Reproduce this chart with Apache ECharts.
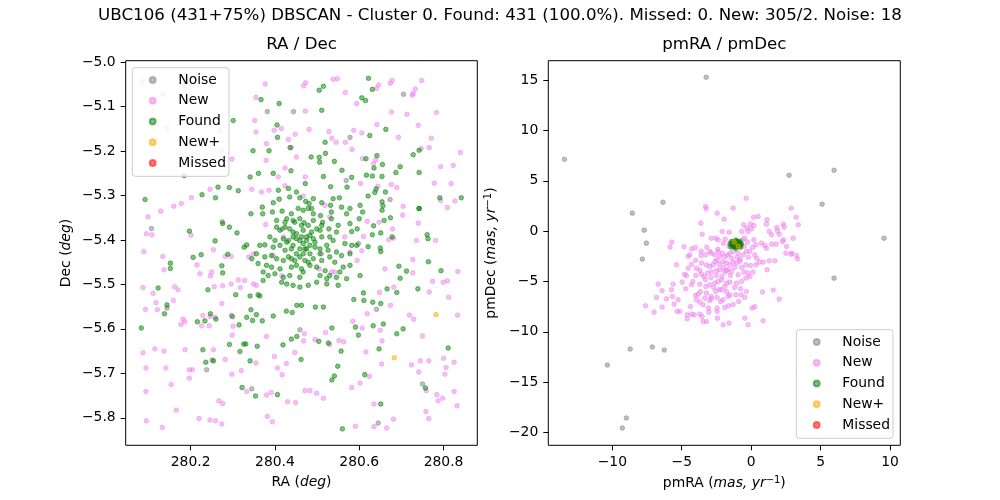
<!DOCTYPE html>
<html>
<head>
<meta charset="utf-8">
<script src="https://cdn.jsdelivr.net/npm/echarts@6/dist/echarts.min.js"></script>
<style>
  html, body { margin: 0; padding: 0; background: #fff; }
  #chart { width: 1000px; height: 500px; }
</style>
</head>
<body>
<div id="chart"></div>
<script>
// ---- RA / Dec panel ----
var noiseRaDec = [
  [280.705,-5.072],[280.382,-5.111],[280.444,-5.111],[280.578,-5.169],[280.569,-5.266],[280.673,-5.309],
  [280.275,-5.359],[280.107,-5.374],[280.598,-5.408],[280.641,-5.556],[280.144,-5.553],[280.251,-5.670],
  [280.238,-5.692],[280.345,-5.735],[280.750,-5.724],[280.645,-5.812],[280.459,-5.602],[280.417,-5.375]
];
var newRaDec = [
  [280.085,-5.043],[280.377,-5.049],[280.473,-5.046],[280.468,-5.053],[280.538,-5.038],[280.548,-5.037],
  [280.567,-5.068],[280.646,-5.051],[280.641,-5.059],[280.678,-5.041],[280.674,-5.047],[280.733,-5.060],
  [280.728,-5.070],[280.726,-5.074],[280.748,-5.041],[280.594,-5.093],[280.355,-5.079],[280.135,-5.072],
  [280.185,-5.053],
  [280.472,-5.110],[280.783,-5.113],[280.676,-5.112],[280.713,-5.117],[280.352,-5.131],[280.415,-5.149],
  [280.398,-5.153],[280.481,-5.151],[280.528,-5.156],[280.587,-5.153],[280.606,-5.159],[280.642,-5.140],
  [280.740,-5.142],[280.355,-5.157],[280.448,-5.162],[280.771,-5.171],[280.693,-5.169],[280.535,-5.171],
  [280.545,-5.180],[280.432,-5.174],[280.567,-5.180],[280.269,-5.154],[280.144,-5.147],
  [280.380,-5.183],[280.439,-5.192],[280.451,-5.213],[280.583,-5.196],[280.747,-5.194],[280.766,-5.192],
  [280.840,-5.203],[280.823,-5.232],[280.793,-5.235],[280.608,-5.217],[280.639,-5.220],[280.634,-5.228],
  [280.424,-5.238],[280.273,-5.200],[280.298,-5.218],[280.379,-5.221],
  [280.408,-5.258],[280.472,-5.258],[280.676,-5.275],[280.689,-5.282],[280.778,-5.272],[280.818,-5.273],
  [280.793,-5.311],[280.704,-5.324],[280.809,-5.327],[280.827,-5.312],[280.644,-5.279],[280.603,-5.273],
  [280.345,-5.286],[280.368,-5.292],[280.386,-5.288],[280.424,-5.278],[280.246,-5.286],[280.202,-5.305],
  [280.160,-5.324],[280.178,-5.318],[280.129,-5.335],
  [280.099,-5.348],[280.108,-5.388],[280.095,-5.386],[280.201,-5.389],[280.703,-5.344],[280.740,-5.362],
  [280.781,-5.401],[280.736,-5.401],[280.679,-5.375],[280.681,-5.396],[280.647,-5.360],[280.619,-5.358],
  [280.610,-5.392],
  [280.089,-5.426],[280.134,-5.437],[280.215,-5.456],[280.254,-5.422],[280.282,-5.437],[280.296,-5.437],
  [280.338,-5.438],[280.670,-5.399],[280.606,-5.424],[280.595,-5.446],[280.661,-5.465],[280.727,-5.444],
  [280.834,-5.471],[280.809,-5.492],[280.774,-5.493],[280.799,-5.495],[280.137,-5.467],[280.222,-5.476],
  [280.087,-5.507],[280.111,-5.520],[280.162,-5.505],[280.118,-5.541],[280.159,-5.536],[280.170,-5.512],
  [280.247,-5.481],[280.250,-5.472],[280.256,-5.505],[280.276,-5.503],[280.296,-5.499],[280.313,-5.490],
  [280.318,-5.507],[280.328,-5.491],[280.648,-5.518],[280.682,-5.506],[280.727,-5.474],[280.766,-5.517],
  [280.812,-5.529],[280.674,-5.547],
  [280.093,-5.556],[280.121,-5.557],[280.182,-5.578],[280.186,-5.584],[280.177,-5.590],[280.229,-5.570],
  [280.246,-5.572],[280.226,-5.593],[280.244,-5.593],[280.258,-5.574],[280.274,-5.543],[280.296,-5.569],
  [280.301,-5.594],[280.299,-5.614],[280.380,-5.617],[280.470,-5.611],[280.520,-5.608],[280.552,-5.626],
  [280.607,-5.598],[280.585,-5.583],[280.619,-5.566],[280.650,-5.603],[280.719,-5.569],[280.729,-5.578],
  [280.750,-5.616],[280.833,-5.569],
  [280.087,-5.654],[280.094,-5.688],[280.115,-5.645],[280.137,-5.650],[280.141,-5.688],[280.187,-5.647],
  [280.197,-5.692],[280.204,-5.692],[280.254,-5.647],[280.282,-5.669],[280.320,-5.694],[280.355,-5.677],
  [280.406,-5.688],[280.399,-5.662],[280.427,-5.678],[280.447,-5.653],[280.468,-5.627],[280.495,-5.624],
  [280.530,-5.635],[280.563,-5.629],[280.654,-5.627],[280.616,-5.652],[280.653,-5.679],[280.724,-5.681],
  [280.745,-5.672],[280.765,-5.672],[280.741,-5.697],[280.800,-5.666],[280.806,-5.687],[280.825,-5.675],
  [280.094,-5.741],[280.154,-5.725],[280.197,-5.711],[280.267,-5.762],[280.276,-5.768],[280.298,-5.702],
  [280.333,-5.741],[280.380,-5.749],[280.391,-5.743],[280.417,-5.703],[280.430,-5.764],[280.449,-5.766],
  [280.471,-5.739],[280.483,-5.739],[280.499,-5.745],[280.515,-5.756],[280.582,-5.732],[280.602,-5.722],
  [280.624,-5.707],[280.635,-5.769],[280.759,-5.739],[280.784,-5.748],[280.787,-5.762],[280.798,-5.756],
  [280.803,-5.702],[280.825,-5.741],[280.832,-5.773],
  [280.095,-5.807],[280.133,-5.822],[280.166,-5.783],[280.220,-5.802],[280.246,-5.805],[280.259,-5.807],
  [280.274,-5.814],[280.382,-5.797],[280.394,-5.809],[280.591,-5.819],[280.635,-5.820],[280.665,-5.823],
  [280.681,-5.803],[280.758,-5.786],[280.765,-5.802],
  [280.467,-5.301],[280.519,-5.322],[280.530,-5.348],[280.378,-5.365],[280.420,-5.393],[280.566,-5.393],
  [280.349,-5.431],[280.396,-5.435],[280.511,-5.431],[280.505,-5.465],[280.534,-5.472],[280.542,-5.472],
  [280.416,-5.480],[280.349,-5.499],[280.356,-5.502],[280.578,-5.427]
];
var foundRaDec = [
  [280.622,-5.036],[280.505,-5.063],[280.515,-5.054],[280.631,-5.061],[280.367,-5.084],[280.606,-5.080],
  [280.615,-5.086],[280.410,-5.093],[280.511,-5.108],[280.405,-5.141],[280.406,-5.169],[280.301,-5.131],
  [280.663,-5.151],[280.625,-5.165],[280.519,-5.180],[280.728,-5.208],[280.742,-5.198],[280.348,-5.199],
  [280.386,-5.199],[280.436,-5.192],[280.486,-5.213],[280.505,-5.214],[280.506,-5.225],[280.520,-5.205],
  [280.541,-5.223],[280.616,-5.217],[280.642,-5.210],[280.635,-5.238],[280.655,-5.230],[280.697,-5.235],
  [280.438,-5.244],[280.472,-5.273],[280.515,-5.257],[280.532,-5.280],[280.559,-5.243],[280.582,-5.259],
  [280.571,-5.281],[280.617,-5.254],[280.631,-5.256],[280.654,-5.257],[280.640,-5.285],[280.621,-5.301],
  [280.637,-5.293],[280.687,-5.248],[280.742,-5.248],[280.341,-5.258],[280.361,-5.250],[280.292,-5.282],
  [280.313,-5.289],[280.265,-5.281],[280.227,-5.298],[280.259,-5.305],[280.092,-5.309],[280.185,-5.255],
  [280.791,-5.305],[280.842,-5.305],[280.742,-5.329],[280.654,-5.314],[280.656,-5.323],[280.674,-5.350],
  [280.662,-5.292],[280.408,-5.288],[280.432,-5.284],[280.451,-5.292],[280.396,-5.250],
  [280.197,-5.380],[280.276,-5.363],[280.292,-5.371],[280.310,-5.384],[280.258,-5.402],[280.327,-5.416],
  [280.333,-5.411],[280.206,-5.439],[280.225,-5.433],[280.274,-5.458],[280.288,-5.432],[280.152,-5.452],
  [280.152,-5.464],[280.276,-5.474],[280.654,-5.333],[280.659,-5.356],[280.634,-5.368],[280.651,-5.384],
  [280.631,-5.388],[280.742,-5.329],[280.761,-5.388],[280.763,-5.397],[280.678,-5.393],[280.621,-5.415],
  [280.650,-5.418],[280.651,-5.426],[280.764,-5.449],[280.794,-5.469],[280.694,-5.459],[280.712,-5.470],
  [280.697,-5.486],[280.123,-5.508],[280.241,-5.512],[280.666,-5.510],[280.689,-5.518],[280.739,-5.510],
  [280.307,-5.523],[280.341,-5.526],[280.360,-5.523],[280.364,-5.526],[280.452,-5.547],[280.463,-5.547],
  [280.496,-5.551],[280.515,-5.551],[280.610,-5.519],[280.611,-5.536],[280.587,-5.534],[280.632,-5.540],
  [280.651,-5.543],[280.144,-5.546],[280.138,-5.566],[280.083,-5.598],[280.216,-5.584],[280.234,-5.582],
  [280.260,-5.578],[280.247,-5.566],[280.299,-5.572],[280.315,-5.591],[280.333,-5.574],[280.347,-5.581],
  [280.370,-5.582],[280.396,-5.571],[280.343,-5.557],[280.356,-5.568],[280.427,-5.560],[280.441,-5.563],
  [280.657,-5.589],[280.633,-5.593],[280.689,-5.611],[280.704,-5.600],[280.591,-5.596],[280.535,-5.598],
  [280.229,-5.647],[280.236,-5.675],[280.254,-5.672],[280.292,-5.635],[280.317,-5.651],[280.326,-5.634],
  [280.331,-5.634],[280.341,-5.672],[280.358,-5.639],[280.419,-5.636],[280.439,-5.623],[280.452,-5.617],
  [280.462,-5.669],[280.504,-5.628],[280.527,-5.632],[280.557,-5.650],[280.598,-5.614],[280.647,-5.645],
  [280.549,-5.684],[280.322,-5.732],[280.354,-5.751],[280.406,-5.748],[280.535,-5.715],[280.541,-5.706],
  [280.613,-5.703],[280.651,-5.769],[280.757,-5.733],[280.560,-5.825],[280.811,-5.643],
  [280.370,-5.326],[280.396,-5.316],[280.410,-5.308],[280.435,-5.303],[280.459,-5.305],[280.473,-5.313],
  [280.481,-5.318],[280.491,-5.307],[280.511,-5.316],[280.532,-5.322],[280.538,-5.307],[280.553,-5.305],
  [280.558,-5.326],[280.578,-5.329],[280.602,-5.322],[280.608,-5.337],[280.343,-5.341],[280.371,-5.341],
  [280.394,-5.337],[280.417,-5.335],[280.439,-5.341],[280.455,-5.329],[280.467,-5.333],[280.479,-5.329],
  [280.487,-5.329],[280.491,-5.341],[280.534,-5.337],[280.570,-5.341],[280.404,-5.356],[280.428,-5.352],
  [280.443,-5.356],[280.459,-5.352],[280.469,-5.361],[280.508,-5.345],[280.513,-5.360],[280.511,-5.367],
  [280.534,-5.352],[280.550,-5.367],[280.578,-5.363],[280.600,-5.352],[280.404,-5.371],[280.412,-5.378],
  [280.424,-5.371],[280.435,-5.375],[280.443,-5.382],[280.451,-5.386],[280.467,-5.378],[280.487,-5.382],
  [280.499,-5.375],[280.507,-5.378],[280.528,-5.375],[280.546,-5.382],[280.582,-5.381],[280.595,-5.375],
  [280.388,-5.393],[280.400,-5.401],[280.420,-5.397],[280.428,-5.405],[280.443,-5.393],[280.451,-5.397],
  [280.459,-5.401],[280.467,-5.408],[280.483,-5.390],[280.491,-5.397],[280.495,-5.405],[280.511,-5.393],
  [280.530,-5.393],[280.538,-5.401],[280.566,-5.408],[280.582,-5.412],[280.364,-5.412],[280.376,-5.411],
  [280.396,-5.416],[280.412,-5.412],[280.424,-5.423],[280.439,-5.420],[280.443,-5.412],[280.459,-5.420],
  [280.475,-5.420],[280.483,-5.412],[280.495,-5.416],[280.507,-5.420],[280.523,-5.412],[280.526,-5.423],
  [280.546,-5.427],[280.558,-5.435],[280.578,-5.431],[280.594,-5.412],[280.345,-5.442],[280.356,-5.431],
  [280.376,-5.438],[280.392,-5.435],[280.404,-5.442],[280.420,-5.446],[280.439,-5.442],[280.447,-5.446],
  [280.459,-5.438],[280.471,-5.446],[280.479,-5.450],[280.491,-5.442],[280.507,-5.431],[280.511,-5.446],
  [280.530,-5.438],[280.542,-5.450],[280.562,-5.461],[280.360,-5.453],[280.380,-5.457],[280.392,-5.461],
  [280.412,-5.465],[280.439,-5.461],[280.451,-5.457],[280.463,-5.465],[280.483,-5.457],[280.499,-5.461],
  [280.519,-5.469],[280.530,-5.480],[280.554,-5.472],[280.578,-5.457],[280.602,-5.480],[280.372,-5.472],
  [280.384,-5.480],[280.400,-5.476],[280.420,-5.484],[280.435,-5.480],[280.459,-5.484],[280.467,-5.472],
  [280.507,-5.480],[280.523,-5.487],[280.546,-5.484],[280.372,-5.491],[280.416,-5.495],[280.428,-5.499],
  [280.443,-5.502],[280.459,-5.506],[280.479,-5.502],[280.499,-5.495],[280.523,-5.499],[280.550,-5.502],
  [280.570,-5.487],[280.447,-5.360],[280.463,-5.367],[280.475,-5.393],[280.451,-5.431],[280.467,-5.431],
  [280.432,-5.438],[280.475,-5.401],[280.463,-5.393],[280.432,-5.401],[280.424,-5.360],[280.491,-5.356],
  [280.479,-5.367],[280.483,-5.431],[280.471,-5.420]
];
var newPlusRaDec = [[280.782,-5.568],[280.683,-5.665]];
var missedRaDec = [];

// ---- pmRA / pmDec panel ----
var noisePm = [
  [-3.24,15.30],[-13.45,7.15],[2.73,5.56],[5.97,6.06],[5.11,2.68],[-6.35,2.88],[-8.56,1.79],
  [-7.70,0.10],[-7.55,-1.19],[-7.84,-2.78],[9.57,-0.70],[5.97,-4.67],[-8.71,-11.72],[-7.12,-11.52],
  [-6.26,-11.82],[-10.36,-13.31],[-8.99,-18.58],[-9.28,-19.57]
];
var newPm = [
  [-0.36,3.28],[-3.29,2.45],[-3.24,2.22],[-1.30,2.29],[-2.45,1.79],[2.88,2.29],[0.17,1.39],[0.50,1.46],
  [-1.95,1.19],[-3.63,0.80],[3.24,1.39],[1.15,1.13],[1.10,0.70],[3.39,0.63],[-0.55,0.63],[-0.31,0.30],
  [-0.05,0.70],[0.19,0.56],[0.02,0.23],[2.31,0.70],[2.38,0.40],[1.85,0.36],[1.90,0.03],[-2.09,-0.03],
  [-1.59,-0.10],[-3.53,-0.30],[-0.67,-0.03],[-0.22,-0.03],[1.30,-0.03],[1.47,-0.36],[2.02,-0.30],
  [3.03,-0.70],[-5.72,-1.09],[-5.84,-1.59],[-4.83,-1.56],[-4.28,-1.76],[-4.01,-1.62],[-2.88,-0.70],
  [-2.55,-0.70],[-2.38,-0.86],[-1.87,-0.80],[-1.54,-1.19],[-0.62,-0.86],[-0.46,-0.70],[-0.26,-1.09],
  [0.19,-0.86],[0.34,-1.36],[0.74,-1.19],[0.98,-1.42],[1.10,-1.69],[1.47,-1.29],[1.80,-1.29],
  [2.33,-0.86],[2.26,-1.03],[2.55,-1.52],[2.91,-2.19],[3.27,-2.42],[-4.42,-2.35],[-4.54,-2.52],
  [-3.60,-2.42],[-3.27,-2.35],[-2.98,-2.02],[-2.88,-2.19],[-2.62,-2.35],[-2.38,-2.02],[-2.07,-2.19],
  [-1.90,-2.52],[-2.26,-2.52],[-1.54,-2.19],[-1.30,-2.02],[-0.94,-2.19],[-0.58,-2.35],[-0.34,-2.02],
  [-0.10,-2.02],[0.26,-2.35],[-5.38,-3.35],[-4.54,-3.68],[-3.94,-3.68],[-3.58,-3.18],[-3.22,-3.35],
  [-2.98,-3.51],[-2.74,-3.35],[-2.45,-2.85],[-2.02,-3.01],[-1.78,-3.18],[-1.54,-3.35],[-1.30,-3.08],
  [-1.06,-3.18],[-0.82,-3.01],[-0.38,-3.35],[-0.05,-3.41],[0.34,-3.35],[0.58,-3.08],[0.86,-3.08],
  [1.30,-2.95],[1.71,-2.95],[2.50,-2.19],[2.88,-2.29],[3.34,-2.75],[-4.66,-4.41],[-3.99,-4.41],
  [-3.58,-4.27],[-3.15,-4.17],[-2.86,-4.07],[-2.50,-3.94],[-2.26,-3.84],[-1.90,-4.07],[-1.66,-3.84],
  [-1.42,-4.01],[-0.94,-4.34],[-0.53,-4.07],[-0.22,-4.17],[0.14,-4.07],[1.15,-3.84],[-6.70,-5.27],
  [-5.62,-5.27],[-4.97,-5.07],[-4.30,-5.33],[-3.70,-5.27],[-3.27,-5.50],[-2.98,-5.33],[-2.62,-5.17],
  [-2.38,-5.00],[-2.14,-4.84],[-1.78,-5.17],[-1.54,-5.07],[-1.06,-5.17],[-0.70,-5.00],[-0.38,-4.67],
  [-0.10,-4.51],[-6.41,-5.93],[-5.74,-5.83],[-4.71,-5.73],[-3.82,-6.26],[-3.65,-6.00],[-3.22,-6.16],
  [-2.88,-6.49],[-2.55,-6.00],[-2.14,-5.83],[-1.78,-6.00],[-1.54,-6.33],[-1.10,-6.33],[-0.77,-5.73],
  [-0.72,-6.33],[-0.34,-6.00],[-6.82,-6.59],[-6.10,-6.73],[-5.67,-6.49],[-5.26,-6.82],[-3.94,-6.82],
  [-3.70,-7.06],[-3.34,-6.66],[-2.86,-6.73],[-2.45,-6.59],[-2.02,-6.82],[-1.66,-6.49],[-0.46,-6.59],
  [0.82,-6.06],[1.59,-5.86],[2.02,-6.76],[-7.61,-7.42],[-6.99,-8.05],[-6.41,-7.55],[-5.55,-7.26],
  [-5.33,-7.98],[-4.37,-7.49],[-3.46,-7.32],[-3.07,-7.65],[-2.45,-7.65],[-1.63,-7.42],[0.07,-7.65],
  [0.26,-7.52],[-5.14,-7.98],[-4.61,-8.32],[-4.30,-8.25],[-4.11,-8.32],[-3.70,-8.25],[-3.05,-8.05],
  [-2.45,-7.98],[-3.53,-8.48],[-3.46,-8.98],[-3.22,-8.98],[-2.43,-8.65],[-2.02,-9.31],[-1.59,-9.14],
  [-0.46,-8.65],[-0.22,-9.31],[0.86,-8.91],[-4.61,-8.71],
  [-2.6,-3.0],[-2.3,-3.3],[-2.0,-3.6],[-1.8,-3.9],[-2.5,-4.4],[-2.1,-4.5],[-1.5,-4.4],[-1.2,-3.6],
  [-1.0,-2.6],[-0.8,-2.8],[-1.4,-2.7],[-1.7,-2.4],[-2.9,-4.6],[-3.3,-4.8],[-2.7,-5.6],[-2.3,-5.8],
  [-1.9,-5.5],[-1.2,-5.6],[-0.7,-3.6],[-0.2,-2.6],[0.4,-2.7],[0.1,-1.6],[-0.5,-1.5],[-1.6,-1.5],
  [-2.0,-1.2],[-2.4,-1.8],[-3.2,-1.6],[-3.6,-2.0],[-4.0,-2.9],[-4.3,-3.3],[-3.7,-3.9],[-3.4,-4.5],
  [-4.2,-5.0],[-4.8,-4.3],[-3.0,-6.9],[-2.2,-7.0],[-1.3,-7.3],[-0.9,-7.0],[-1.9,-7.6],[-4.0,-6.4]
];
var foundPm = [
  [-1.1,-1.3],[-1.3,-1.2],[-0.9,-1.4],[-1.2,-1.5],[-1.0,-1.1],[-1.35,-1.4],[-0.82,-1.22],[-1.15,-1.05],
  [-1.05,-1.52],[-1.3,-1.08],[-0.88,-1.5],[-1.25,-1.35],[-0.95,-1.25],[-1.38,-1.25],[-0.8,-1.35],
  [-1.18,-1.55],[-1.0,-1.0],[-1.28,-1.5],[-0.9,-1.08],[-1.1,-1.45],
  [-1.5,-1.3],[-0.7,-1.3],[-1.1,-0.88],[-1.1,-1.72],[-1.42,-1.02],[-0.76,-1.6],[-1.45,-1.58],[-0.8,-1.02]
];
var newPlusPm = [[-1.22,-1.09],[-0.94,-1.49]];
var missedPm = [];

// ---- tick labels ----
var raTicks = [280.2, 280.4, 280.6, 280.8];
var decTicks = [-5.0, -5.1, -5.2, -5.3, -5.4, -5.5, -5.6, -5.7, -5.8];
var pmRaTicks = [-10, -5, 0, 5, 10];
var pmDecTicks = [15, 10, 5, 0, -5, -10, -15, -20];

var FONT = 'DejaVu Sans';
var colors = {Noise: '#808080', New: '#ee82ee', Found: '#008000', 'New+': '#ffa500', Missed: '#ff0000'};
var names = ['Noise', 'New', 'Found', 'New+', 'Missed'];

function minus(s) { return String(s).replace('-', '\u2212'); }

function valueAxis(gridIndex, min, max, ticks, fmt, name, gap, isY) {
  return {
    type: 'value', gridIndex: gridIndex, min: min, max: max,
    name: name, nameLocation: 'middle', nameGap: gap, nameRotate: isY ? 90 : 0,
    nameTextStyle: {
      fontFamily: FONT, fontSize: 13.9, color: '#000',
      rich: {
        i: {fontFamily: FONT, fontSize: 13.9, fontStyle: 'italic', color: '#000'},
        s: {fontFamily: FONT, fontSize: 10, color: '#000', verticalAlign: 'top', padding: [0, 0, 6, 0]}
      }
    },
    axisLine: {show: false, onZero: false},
    splitLine: {show: false},
    axisTick: {show: true, length: 5, inside: false, customValues: ticks,
      lineStyle: {color: '#000', width: 1}},
    axisLabel: {show: true, customValues: ticks, margin: 10, color: '#000',
      fontFamily: FONT, fontSize: 13.9, formatter: fmt}
  };
}

function scatter(name, data, xi, yi) {
  return {
    type: 'scatter', name: name, data: data, xAxisIndex: xi, yAxisIndex: yi,
    symbol: 'circle', symbolSize: 4.6,
    itemStyle: {color: colors[name], opacity: 0.5, borderColor: colors[name], borderWidth: 1},
    emphasis: {disabled: true}, animation: false
  };
}

function legendBox(left, top) {
  return {
    data: names, left: left, top: top, orient: 'vertical', icon: 'circle',
    itemWidth: 30, itemHeight: 6, itemGap: 6.7, padding: [5.4, 3, 6.4, 16.4],
    backgroundColor: 'rgba(255,255,255,0.8)', borderColor: '#cccccc', borderWidth: 1, borderRadius: 3,
    selectedMode: false,
    textStyle: {fontFamily: FONT, fontSize: 13.9, color: '#000', lineHeight: 14, padding: [0, 0, 0, 5.6]}
  };
}

var series = [];
var leftSets = [noiseRaDec, newRaDec, foundRaDec, newPlusRaDec, missedRaDec];
var rightSets = [noisePm, newPm, foundPm, newPlusPm, missedPm];
names.forEach(function (n, k) { series.push(scatter(n, leftSets[k], 0, 0)); });
names.forEach(function (n, k) { series.push(scatter(n, rightSets[k], 1, 1)); });

var titleStyle = {fontFamily: FONT, fontSize: 16.67, fontWeight: 'normal', color: '#000'};

var chart = echarts.init(document.getElementById('chart'));
chart.setOption({
  backgroundColor: '#fff',
  animation: false,
  title: [
    {text: 'UBC106 (431+75%) DBSCAN - Cluster 0. Found: 431 (100.0%). Missed: 0. New: 305/2. Noise: 18',
      left: 500, top: 7, padding: 0, textAlign: 'center', textStyle: titleStyle},
    {text: 'RA / Dec', left: 301.5, top: 36, padding: 0, textAlign: 'center', textStyle: titleStyle},
    {text: 'pmRA / pmDec', left: 724.3, top: 36, padding: 0, textAlign: 'center', textStyle: titleStyle}
  ],
  legend: [legendBox(132.3, 67.7), legendBox(796.3, 329.7)],
  grid: [
    {left: 125.7, top: 60.7, width: 351.6, height: 384.6, show: true, borderColor: '#000', borderWidth: 1, backgroundColor: 'transparent'},
    {left: 548.3, top: 60.7, width: 352, height: 384.6, show: true, borderColor: '#000', borderWidth: 1, backgroundColor: 'transparent'}
  ],
  xAxis: [
    valueAxis(0, 280.046, 280.880, raTicks, function (v) { return v.toFixed(1); }, 'RA ({i|deg})', 30, false),
    valueAxis(1, -14.61, 10.74, pmRaTicks, function (v) { return minus(Math.round(v)); }, 'pmRA ({i|mas, yr}{s|\u22121})', 30, false)
  ],
  yAxis: [
    valueAxis(0, -5.862, -4.9964, decTicks, function (v) { return minus(v.toFixed(1)); }, 'Dec ({i|deg})', 52, true),
    valueAxis(1, -21.29, 16.95, pmDecTicks, function (v) { return minus(Math.round(v)); }, 'pmDec ({i|mas, yr}{s|\u22121})', 49, true)
  ],
  series: series
});
</script>
</body>
</html>
